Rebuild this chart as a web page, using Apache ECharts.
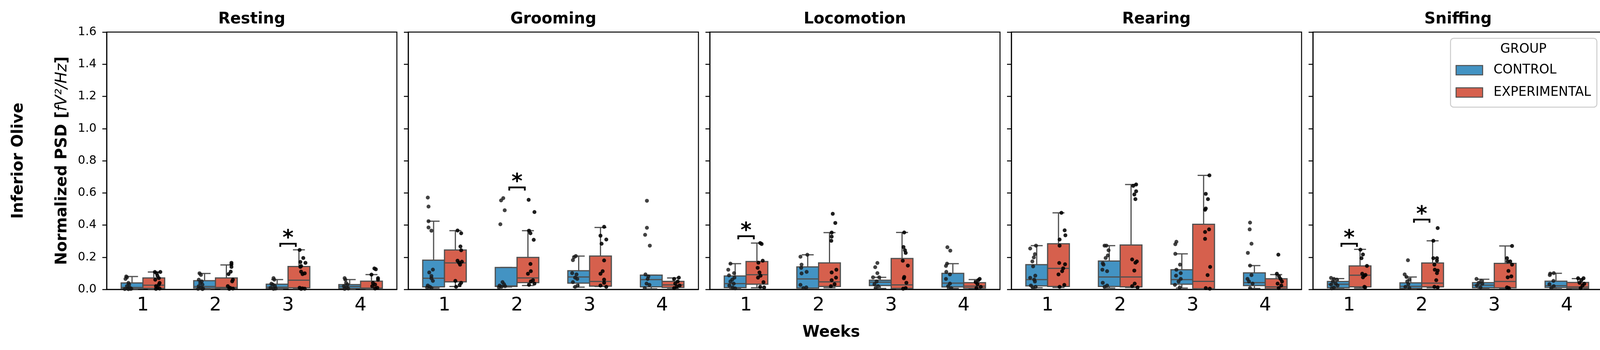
<!DOCTYPE html>
<html>
<head>
<meta charset="utf-8">
<script src="https://cdn.jsdelivr.net/npm/echarts@6/dist/echarts.min.js"></script>
<style>
html, body { margin: 0; padding: 0; background: #fff; }
#chart { width: 4139px; height: 895px; }
</style>
</head>
<body>
<div id="chart"></div>
<script>
// panels, weeks, groups
const panelNames = ['Resting', 'Grooming', 'Locomotion', 'Rearing', 'Sniffing'];
const weeks = ['1', '2', '3', '4'];
const groupNames = ['CONTROL', 'EXPERIMENTAL'];

// box stats per week: [lower whisker, q1, median, q3, upper whisker]
const restingCtrlBox = [[0.002, 0.005, 0.012, 0.04, 0.08], [0.002, 0.008, 0.018, 0.054, 0.099], [0.002, 0.006, 0.014, 0.032, 0.061], [0.002, 0.006, 0.018, 0.03, 0.061]];
const restingExpBox = [[0.003, 0.006, 0.026, 0.071, 0.108], [0.003, 0.006, 0.012, 0.071, 0.152], [0.004, 0.01, 0.057, 0.142, 0.246], [0.002, 0.004, 0.008, 0.051, 0.092]];
const groomingCtrlBox = [[0.008, 0.016, 0.069, 0.182, 0.424], [0.015, 0.018, 0.021, 0.136, 0.136], [0.014, 0.039, 0.077, 0.116, 0.207], [0.004, 0.016, 0.061, 0.089, 0.089]];
const groomingExpBox = [[0.018, 0.047, 0.165, 0.245, 0.365], [0.024, 0.042, 0.071, 0.199, 0.365], [0.018, 0.02, 0.049, 0.207, 0.385], [0.004, 0.012, 0.028, 0.05, 0.071]];
const locomotionCtrlBox = [[0.004, 0.011, 0.036, 0.083, 0.16], [0.008, 0.008, 0.065, 0.14, 0.215], [0.006, 0.024, 0.045, 0.057, 0.075], [0.006, 0.015, 0.039, 0.1, 0.16]];
const locomotionExpBox = [[0.01, 0.032, 0.091, 0.173, 0.288], [0.01, 0.018, 0.047, 0.165, 0.353], [0.004, 0.006, 0.028, 0.192, 0.354], [0.006, 0.008, 0.02, 0.042, 0.061]];
const rearingCtrlBox = [[0.01, 0.022, 0.061, 0.154, 0.272], [0.008, 0.018, 0.077, 0.176, 0.272], [0.008, 0.032, 0.061, 0.122, 0.221], [0.006, 0.024, 0.042, 0.103, 0.148]];
const rearingExpBox = [[0.012, 0.018, 0.131, 0.284, 0.476], [0.012, 0.016, 0.077, 0.276, 0.652], [0.004, 0.004, 0.05, 0.405, 0.709], [0.004, 0.004, 0.016, 0.066, 0.092]];
const sniffingCtrlBox = [[0.004, 0.01, 0.032, 0.049, 0.067], [0.004, 0.006, 0.019, 0.041, 0.077], [0.004, 0.01, 0.026, 0.042, 0.063], [0.004, 0.012, 0.023, 0.051, 0.1]];
const sniffingExpBox = [[0.008, 0.016, 0.088, 0.146, 0.249], [0.01, 0.016, 0.039, 0.164, 0.302], [0.006, 0.01, 0.049, 0.162, 0.27], [0.004, 0.006, 0.015, 0.043, 0.067]];

// animal points per week: [jitter (fraction of week), value]
const restingCtrlPts = [
  [[-0.03, 0.08], [-0.02, 0.075], [-0.04, 0.065], [0.0, 0.04], [0.01, 0.03], [-0.02, 0.02], [0.02, 0.01], [-0.01, 0.005], [0.03, 0.003], [-0.05, 0.002], [0.04, 0.004], [0.0, 0.001]],
  [[-0.02, 0.1], [0.0, 0.09], [-0.03, 0.06], [0.01, 0.05], [-0.01, 0.04], [0.02, 0.03], [-0.03, 0.02], [0.0, 0.01], [0.03, 0.005], [-0.04, 0.003], [0.02, 0.002]],
  [[0.0, 0.07], [0.01, 0.06], [-0.03, 0.035], [-0.01, 0.03], [0.02, 0.02], [-0.04, 0.01], [0.03, 0.005], [0.0, 0.003]],
  [[-0.02, 0.07], [-0.01, 0.06], [0.0, 0.04], [0.02, 0.03], [-0.03, 0.02], [0.01, 0.01], [0.03, 0.005], [-0.02, 0.003]]
];
const restingExpPts = [
  [[-0.035, 0.108], [0.04, 0.108], [-0.01, 0.1], [0.0, 0.085], [0.02, 0.07], [-0.03, 0.06], [0.03, 0.04], [0.02, 0.03], [-0.02, 0.02], [0.0, 0.01], [0.03, 0.005], [-0.02, 0.003]],
  [[0.02, 0.165], [0.02, 0.155], [0.02, 0.14], [0.01, 0.11], [-0.02, 0.095], [0.04, 0.06], [0.03, 0.05], [-0.03, 0.02], [0.0, 0.01], [0.04, 0.005], [-0.01, 0.003]],
  [[-0.04, 0.245], [0.01, 0.195], [-0.03, 0.17], [0.04, 0.165], [-0.02, 0.145], [-0.03, 0.14], [-0.02, 0.11], [0.03, 0.1], [0.0, 0.095], [-0.04, 0.01], [0.0, 0.006], [0.03, 0.004], [-0.02, 0.003]],
  [[-0.01, 0.13], [0.01, 0.125], [-0.05, 0.092], [0.04, 0.07], [0.04, 0.06], [-0.03, 0.04], [0.0, 0.03], [-0.04, 0.02], [0.03, 0.01], [0.0, 0.005]]
];
const groomingCtrlPts = [
  [[-0.03, 0.571], [-0.02, 0.515], [-0.02, 0.424], [-0.02, 0.385], [0.02, 0.365], [0.04, 0.123], [-0.01, 0.105], [0.02, 0.083], [0.02, 0.069], [0.04, 0.053], [-0.03, 0.024], [0.0, 0.016], [-0.04, 0.012], [0.02, 0.008]],
  [[0.01, 0.567], [-0.02, 0.553], [0.03, 0.492], [-0.03, 0.405], [0.0, 0.045], [0.02, 0.032], [-0.04, 0.024], [0.035, 0.02], [-0.015, 0.016], [-0.05, 0.012]],
  [[0.01, 0.207], [-0.015, 0.2], [-0.03, 0.182], [-0.04, 0.101], [0.02, 0.093], [0.0, 0.073], [0.03, 0.065], [-0.03, 0.045], [0.035, 0.024], [0.0, 0.016]],
  [[-0.01, 0.551], [-0.01, 0.383], [-0.035, 0.339], [0.03, 0.272], [-0.03, 0.093], [0.01, 0.081], [0.0, 0.065], [-0.015, 0.036], [0.025, 0.028], [-0.04, 0.008]]
];
const groomingExpPts = [
  [[-0.02, 0.366], [0.03, 0.349], [0.02, 0.267], [0.03, 0.243], [-0.02, 0.178], [0.04, 0.172], [0.0, 0.166], [0.015, 0.154], [-0.05, 0.053], [0.03, 0.041], [0.01, 0.028], [-0.04, 0.016]],
  [[-0.04, 0.557], [0.04, 0.481], [-0.035, 0.365], [-0.015, 0.349], [0.03, 0.308], [-0.015, 0.158], [-0.01, 0.113], [-0.05, 0.097], [0.02, 0.057], [-0.01, 0.049], [0.04, 0.036], [-0.035, 0.028]],
  [[0.0, 0.389], [-0.05, 0.334], [0.03, 0.31], [-0.035, 0.284], [0.0, 0.18], [-0.02, 0.113], [-0.05, 0.097], [0.0, 0.061], [0.0, 0.041], [-0.05, 0.024], [0.03, 0.016]],
  [[0.03, 0.073], [-0.035, 0.065], [0.015, 0.049], [-0.02, 0.036], [0.04, 0.024], [0.0, 0.016], [-0.035, 0.008]]
];
const locomotionCtrlPts = [
  [[-0.015, 0.16], [-0.045, 0.122], [0.035, 0.101], [-0.035, 0.087], [0.04, 0.073], [0.01, 0.061], [-0.015, 0.049], [0.03, 0.036], [-0.03, 0.024], [0.015, 0.012], [0.05, 0.006]],
  [[0.045, 0.215], [-0.05, 0.203], [-0.035, 0.154], [-0.04, 0.134], [0.035, 0.109], [-0.035, 0.099], [-0.05, 0.028], [0.03, 0.012], [-0.01, 0.008]],
  [[0.01, 0.164], [-0.02, 0.138], [0.01, 0.101], [-0.05, 0.075], [0.035, 0.075], [0.0, 0.049], [-0.03, 0.032], [0.02, 0.02], [-0.015, 0.008]],
  [[-0.025, 0.262], [0.015, 0.241], [-0.03, 0.16], [-0.045, 0.146], [-0.04, 0.109], [0.01, 0.093], [-0.045, 0.065], [0.01, 0.036], [-0.015, 0.02], [0.025, 0.008]]
];
const locomotionExpPts = [
  [[-0.005, 0.288], [0.015, 0.282], [0.03, 0.178], [-0.03, 0.166], [-0.04, 0.134], [-0.015, 0.105], [0.0, 0.085], [-0.035, 0.073], [0.04, 0.045], [-0.005, 0.016], [0.05, 0.012]],
  [[-0.005, 0.47], [0.03, 0.413], [-0.02, 0.353], [-0.02, 0.328], [-0.025, 0.302], [0.045, 0.122], [-0.02, 0.105], [0.04, 0.073], [-0.02, 0.057], [0.02, 0.032], [-0.03, 0.02]],
  [[-0.02, 0.354], [-0.03, 0.263], [-0.01, 0.243], [0.0, 0.227], [-0.04, 0.178], [0.03, 0.148], [-0.02, 0.077], [-0.025, 0.069], [0.01, 0.041], [0.0, 0.008], [-0.035, 0.004]],
  [[0.02, 0.065], [0.0, 0.057], [-0.035, 0.045], [-0.01, 0.032], [0.035, 0.016], [-0.025, 0.008]]
];
const rearingCtrlPts = [
  [[0.04, 0.272], [-0.04, 0.254], [0.025, 0.219], [0.01, 0.199], [-0.01, 0.174], [0.0, 0.143], [0.03, 0.085], [-0.04, 0.072], [0.015, 0.061], [0.025, 0.049], [-0.03, 0.024], [0.035, 0.016], [0.0, 0.01]],
  [[-0.015, 0.272], [0.01, 0.272], [0.04, 0.243], [0.03, 0.211], [0.0, 0.195], [-0.04, 0.162], [-0.03, 0.154], [-0.045, 0.122], [0.02, 0.113], [-0.04, 0.041], [0.02, 0.024], [-0.015, 0.016]],
  [[-0.025, 0.296], [-0.04, 0.281], [-0.04, 0.221], [0.025, 0.154], [-0.025, 0.122], [0.035, 0.101], [-0.03, 0.085], [0.035, 0.065], [0.005, 0.049], [-0.045, 0.028], [0.02, 0.012]],
  [[-0.01, 0.415], [-0.015, 0.373], [0.01, 0.284], [-0.04, 0.227], [-0.01, 0.148], [0.01, 0.089], [-0.045, 0.065], [-0.025, 0.049], [0.025, 0.036], [-0.01, 0.008]]
];
const rearingExpPts = [
  [[-0.01, 0.476], [0.035, 0.367], [0.045, 0.336], [-0.035, 0.31], [-0.035, 0.272], [-0.04, 0.164], [0.04, 0.156], [0.015, 0.131], [0.0, 0.113], [-0.05, 0.093], [0.03, 0.028], [-0.035, 0.016]],
  [[0.02, 0.652], [-0.02, 0.644], [0.02, 0.61], [-0.005, 0.59], [0.01, 0.561], [-0.035, 0.186], [0.03, 0.174], [0.01, 0.166], [-0.005, 0.117], [0.0, 0.036], [-0.035, 0.02], [0.04, 0.012]],
  [[0.03, 0.709], [-0.02, 0.594], [0.01, 0.561], [-0.02, 0.503], [-0.03, 0.495], [0.025, 0.373], [-0.03, 0.357], [-0.03, 0.314], [0.04, 0.14], [0.005, 0.089], [-0.02, 0.008], [0.035, 0.004]],
  [[-0.02, 0.216], [-0.04, 0.097], [-0.01, 0.081], [0.01, 0.065], [0.03, 0.049], [-0.03, 0.036], [0.02, 0.024], [-0.015, 0.008]]
];
const sniffingCtrlPts = [
  [[-0.05, 0.071], [-0.01, 0.065], [0.03, 0.061], [-0.025, 0.049], [0.015, 0.036], [-0.05, 0.03], [0.04, 0.024], [-0.01, 0.012], [-0.04, 0.006]],
  [[0.01, 0.181], [-0.035, 0.093], [-0.01, 0.077], [0.03, 0.06], [0.0, 0.049], [0.015, 0.032], [-0.025, 0.016], [0.03, 0.008]],
  [[-0.045, 0.065], [0.02, 0.053], [-0.015, 0.041], [0.035, 0.035], [-0.04, 0.024], [0.01, 0.012]],
  [[0.02, 0.101], [-0.03, 0.098], [-0.035, 0.089], [0.015, 0.053], [-0.04, 0.032], [0.02, 0.02], [-0.015, 0.008]]
];
const sniffingExpPts = [
  [[-0.045, 0.247], [-0.01, 0.217], [-0.03, 0.194], [0.045, 0.146], [-0.02, 0.097], [0.025, 0.09], [0.01, 0.085], [-0.01, 0.075], [0.01, 0.016], [0.02, 0.012]],
  [[0.02, 0.381], [-0.04, 0.302], [-0.04, 0.194], [0.01, 0.194], [0.01, 0.178], [-0.025, 0.154], [-0.02, 0.122], [0.02, 0.117], [0.01, 0.101], [0.0, 0.057], [-0.025, 0.016], [0.02, 0.012]],
  [[0.045, 0.27], [-0.025, 0.194], [0.02, 0.174], [-0.015, 0.174], [0.045, 0.154], [-0.005, 0.115], [0.035, 0.081], [-0.015, 0.075], [-0.025, 0.012], [0.0, 0.008]],
  [[-0.045, 0.069], [0.03, 0.069], [0.0, 0.057], [-0.025, 0.041], [0.04, 0.035], [0.015, 0.024], [-0.01, 0.008]]
];

// significance brackets: [panel index, week index, bracket height]
const significance = [[0, 2, 0.284], [1, 1, 0.634], [2, 0, 0.331], [4, 0, 0.284], [4, 1, 0.434]];

const boxData = [
  [restingCtrlBox, restingExpBox],
  [groomingCtrlBox, groomingExpBox],
  [locomotionCtrlBox, locomotionExpBox],
  [rearingCtrlBox, rearingExpBox],
  [sniffingCtrlBox, sniffingExpBox]
];
const pointData = [
  [restingCtrlPts, restingExpPts],
  [groomingCtrlPts, groomingExpPts],
  [locomotionCtrlPts, locomotionExpPts],
  [rearingCtrlPts, rearingExpPts],
  [sniffingCtrlPts, sniffingExpPts]
];

const FONT = 'DejaVu Sans';
const EDGE = '#4f4f4f';
const groupColors = ['#4393c3', '#d6604d'];
const pointColors = ['rgba(25,25,25,0.82)', 'rgba(0,0,0,0.88)'];

const gridLeft = 273, gridStep = 772, gridWidth = 743, gridTop = 82, gridHeight = 658;

function renderBox(side, color) {
  return function (params, api) {
    const w = api.value(0);
    const band = api.size([1, 0])[0];
    const half = 0.15 * band;
    const cx = api.coord([w, 0])[0] + side * half;
    const y = i => api.coord([w, api.value(i)])[1];
    const yLo = y(1), yQ1 = y(2), yMed = y(3), yQ3 = y(4), yHi = y(5);
    const cap = half * 0.55;
    const ls = { stroke: EDGE, lineWidth: 3 };
    return {
      type: 'group',
      children: [
        { type: 'line', shape: { x1: cx, y1: yQ3, x2: cx, y2: yHi }, style: ls },
        { type: 'line', shape: { x1: cx, y1: yQ1, x2: cx, y2: yLo }, style: ls },
        { type: 'line', shape: { x1: cx - cap, y1: yHi, x2: cx + cap, y2: yHi }, style: ls },
        { type: 'line', shape: { x1: cx - cap, y1: yLo, x2: cx + cap, y2: yLo }, style: ls },
        { type: 'rect', shape: { x: cx - half, y: yQ3, width: 2 * half, height: Math.max(yQ1 - yQ3, 1) }, style: { fill: color, stroke: EDGE, lineWidth: 3 } },
        { type: 'line', shape: { x1: cx - half, y1: yMed, x2: cx + half, y2: yMed }, style: ls }
      ]
    };
  };
}

function renderPoints(side, fill) {
  return function (params, api) {
    const w = api.value(0);
    const band = api.size([1, 0])[0];
    const p = api.coord([w, api.value(2)]);
    return {
      type: 'circle',
      shape: { cx: p[0] + (side * 0.2 + api.value(1)) * band, cy: p[1], r: 5 },
      style: { fill: fill }
    };
  };
}

function renderSig(params, api) {
  const w = api.value(0);
  const band = api.size([1, 0])[0];
  const p = api.coord([w, api.value(1)]);
  const hw = 0.107 * band;
  return {
    type: 'group',
    children: [
      { type: 'polyline', shape: { points: [[p[0] - hw, p[1] + 8], [p[0] - hw, p[1]], [p[0] + hw, p[1]], [p[0] + hw, p[1] + 8]] }, style: { stroke: '#000', lineWidth: 4.5, fill: 'none' } },
      { type: 'text', x: p[0], y: p[1] - 12, style: { text: '*', fontSize: 54, fontWeight: 'bold', fontFamily: FONT, fill: '#000', align: 'center', verticalAlign: 'middle' } }
    ]
  };
}

const grids = [], xAxes = [], yAxes = [], series = [], graphics = [];

panelNames.forEach((name, g) => {
  const left = gridLeft + g * gridStep;
  grids.push({ left: left, top: gridTop, width: gridWidth, height: gridHeight, show: true, borderColor: '#000', borderWidth: 2.5, backgroundColor: 'transparent' });
  xAxes.push({
    type: 'category', gridIndex: g, data: weeks,
    axisLine: { lineStyle: { color: '#000', width: 2.5 } },
    axisTick: { alignWithLabel: true, length: 11, lineStyle: { color: '#000', width: 2.5 } },
    axisLabel: { fontSize: 48, color: '#000', fontFamily: FONT, margin: 18 },
    splitLine: { show: false }
  });
  yAxes.push({
    type: 'value', gridIndex: g, min: 0, max: 1.6, interval: 0.2,
    axisLine: { show: true, lineStyle: { color: '#000', width: 2.5 } },
    axisTick: { show: true, length: 11, lineStyle: { color: '#000', width: 2.5 } },
    axisLabel: { show: g === 0, fontSize: 30, color: '#000', fontFamily: FONT, margin: 26, formatter: v => v.toFixed(1) },
    splitLine: { show: false }
  });

  [0, 1].forEach(k => {
    const side = k === 0 ? -1 : 1;
    series.push({
      type: 'custom', name: groupNames[k], xAxisIndex: g, yAxisIndex: g,
      itemStyle: { color: groupColors[k] },
      renderItem: renderBox(side, groupColors[k]),
      encode: { x: 0, y: [1, 2, 3, 4, 5] },
      data: boxData[g][k].map((b, i) => [i].concat(b))
    });
  });
  [0, 1].forEach(k => {
    const side = k === 0 ? -1 : 1;
    const pts = [];
    pointData[g][k].forEach((wk, i) => wk.forEach(p => pts.push([i, p[0], p[1]])));
    series.push({
      type: 'custom', name: 'points-' + k, xAxisIndex: g, yAxisIndex: g,
      renderItem: renderPoints(side, pointColors[k]),
      encode: { x: 0, y: 2 },
      data: pts
    });
  });
  const sig = significance.filter(s => s[0] === g).map(s => [s[1], s[2]]);
  if (sig.length) {
    series.push({
      type: 'custom', name: 'sig', xAxisIndex: g, yAxisIndex: g,
      renderItem: renderSig, encode: { x: 0, y: 1 }, data: sig
    });
  }

  graphics.push({
    type: 'text', x: left + gridWidth / 2, y: 50, z: 100,
    style: { text: name, fontSize: 40, fontWeight: 'bold', fontFamily: FONT, fill: '#000', align: 'center', verticalAlign: 'middle' }
  });
});

graphics.push(
  { type: 'text', x: 2128, y: 851, z: 100, style: { text: 'Weeks', fontSize: 40, fontWeight: 'bold', fontFamily: FONT, fill: '#000', align: 'center', verticalAlign: 'middle' } },
  { type: 'text', x: 160, y: 411, rotation: Math.PI / 2, z: 100,
    style: {
      text: '{b|Normalized PSD [}{i|fV²/Hz}{b|]}',
      align: 'center', verticalAlign: 'middle',
      rich: {
        b: { fontSize: 40, fontWeight: 'bold', fontFamily: FONT, fill: '#000' },
        i: { fontSize: 40, fontStyle: 'italic', fontFamily: FONT, fill: '#000' }
      }
    } },
  { type: 'text', x: 48, y: 411, rotation: Math.PI / 2, z: 100, style: { text: 'Inferior Olive', fontSize: 40, fontWeight: 'bold', fontFamily: FONT, fill: '#000', align: 'center', verticalAlign: 'middle' } },
  { type: 'text', x: 3900, y: 126, z: 100, style: { text: 'GROUP', fontSize: 33, fontFamily: FONT, fill: '#000', align: 'center', verticalAlign: 'middle' } }
);

const chart = echarts.init(document.getElementById('chart'));
chart.setOption({
  animation: false,
  backgroundColor: '#fff',
  grid: grids,
  xAxis: xAxes,
  yAxis: yAxes,
  legend: {
    data: groupNames,
    orient: 'vertical',
    right: 51, top: 98,
    padding: [65, 15, 21, 13],
    itemWidth: 68, itemHeight: 24, itemGap: 24,
    icon: 'rect',
    itemStyle: { borderColor: EDGE, borderWidth: 2.5 },
    textStyle: { fontSize: 33, fontFamily: FONT, color: '#000', lineHeight: 24, padding: [0, 0, 0, 23] },
    backgroundColor: '#fff',
    borderColor: '#cccccc', borderWidth: 2.5, borderRadius: 8
  },
  graphic: graphics,
  series: series
});
</script>
</body>
</html>
